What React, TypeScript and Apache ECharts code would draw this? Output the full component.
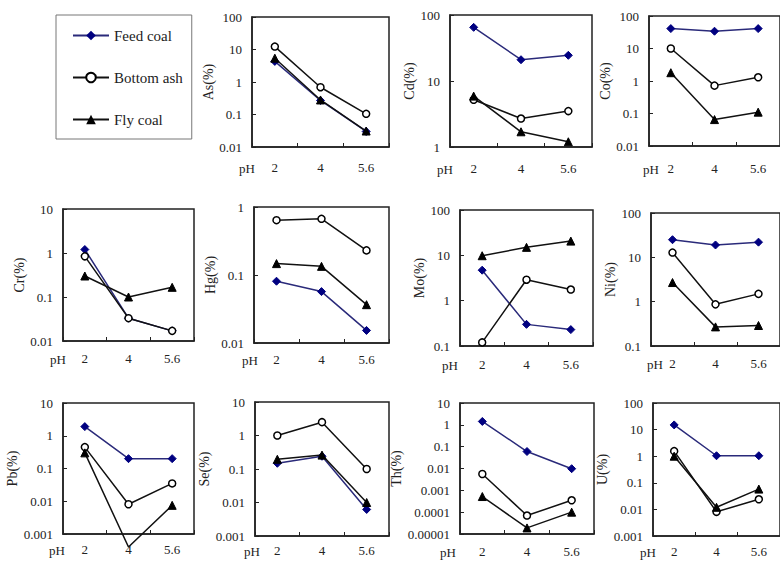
import React, { useEffect, useRef } from "react";
import * as echarts from "echarts";

// ---- data ----
const phLabels = ["2", "4", "5.6"];
const elements = ["As", "Cd", "Co", "Cr", "Hg", "Mo", "Ni", "Pb", "Se", "Th", "U"];
const seriesNames = ["Feed coal", "Bottom ash", "Fly coal"];

const feedCoal = [
  [4.3, 0.27, 0.03],
  [65, 21, 24.5],
  [41, 34, 41],
  [1.2, 0.033, 0.017],
  [0.081, 0.057, 0.0153],
  [4.7, 0.3, 0.23],
  [25, 19, 22],
  [1.9, 0.2, 0.2],
  [0.148, 0.24, 0.0062],
  [1.43, 0.06, 0.0098],
  [15, 1.04, 1.04],
];
const bottomAsh = [
  [12.3, 0.69, 0.105],
  [5.2, 2.7, 3.5],
  [10, 0.72, 1.3],
  [0.84, 0.033, 0.017],
  [0.64, 0.67, 0.23],
  [0.12, 2.9, 1.76],
  [12.8, 0.87, 1.5],
  [0.45, 0.0081, 0.035],
  [1.0, 2.5, 0.1],
  [0.0056, 0.00007, 0.00035],
  [1.55, 0.0081, 0.024],
];
const flyCoal = [
  [5.4, 0.28, 0.031],
  [5.9, 1.7, 1.2],
  [1.8, 0.065, 0.11],
  [0.3, 0.1, 0.166],
  [0.147, 0.134, 0.0366],
  [9.8, 15, 20.6],
  [2.7, 0.27, 0.29],
  [0.3, 0.0004, 0.0075],
  [0.195, 0.26, 0.01],
  [0.00052, 0.000019, 0.0001],
  [1.0, 0.012, 0.058],
];
const yMin = [0.01, 1, 0.01, 0.01, 0.01, 0.1, 0.1, 0.001, 0.001, 0.00001, 0.001];
const yMax = [100, 100, 100, 10, 1, 100, 100, 10, 10, 10, 100];

// ---- layout (positions only) ----
// [left, top, width, height, nameGap, labelMargin, phX, phY]
const layout = [
  [252, 17, 137, 130, 32, 14, 247, 168],
  [450, 15, 142, 132, 28, 15, 445, 169],
  [649, 16, 138, 130, 21, 16, 651, 169],
  [63, 209, 131, 132, 28, 11, 58, 359],
  [254, 207, 135, 136, 28, 10, 250, 360],
  [460, 210, 133, 136, 30, 12, 450, 365],
  [651, 213, 135, 133, 29, 11, 655, 364],
  [63, 403, 131, 131, 36, 9, 57, 550],
  [255, 402, 134, 134, 36, 8, 252, 551],
  [460, 403, 134, 131, 45, 11, 448, 552],
  [653, 403, 136, 133, 34, 9, 648, 552],
];

const FONT = "Liberation Serif";
const INK = "#222";
const NAVY = "#000080";

function fmtLog(v: number) {
  const e = Math.round(Math.log10(v));
  if (e >= 0) return String(Math.round(v));
  return v.toFixed(-e);
}

export default function App() {
  const ref = useRef<HTMLDivElement>(null);
  useEffect(() => {
    if (!ref.current) return;
    const chart = echarts.init(ref.current, undefined, { renderer: "svg" });
    const grid: any[] = [];
    const xAxis: any[] = [];
    const yAxis: any[] = [];
    const series: any[] = [];
    const graphic: any[] = [];
    elements.forEach((el, i) => {
      const [l, t, w, h, ng, lm, px, py] = layout[i];
      grid.push({ left: l, top: t, width: w, height: h, show: true, borderColor: INK, borderWidth: 1.5, backgroundColor: "transparent" });
      xAxis.push({
        type: "category",
        gridIndex: i,
        data: phLabels,
        boundaryGap: true,
        axisLine: { show: true, lineStyle: { color: INK, width: 1.5 } },
        axisTick: { show: true, inside: true, length: 4, lineStyle: { color: INK } },
        axisLabel: { margin: lm, fontSize: 13, fontFamily: FONT, color: INK },
        splitLine: { show: false },
      });
      yAxis.push({
        type: "log",
        logBase: 10,
        gridIndex: i,
        min: yMin[i],
        max: yMax[i],
        name: el + "(%)",
        nameLocation: "middle",
        nameGap: ng,
        nameTextStyle: { fontSize: 14, fontFamily: FONT, color: INK },
        axisLine: { show: true, lineStyle: { color: INK, width: 1.5 } },
        axisTick: { show: true, inside: true, length: 4, lineStyle: { color: INK } },
        axisLabel: { margin: 10, fontSize: 13, fontFamily: FONT, color: INK, formatter: fmtLog },
        splitLine: { show: false },
        minorTick: { show: false },
      });
      const common = {
        type: "line",
        xAxisIndex: i,
        yAxisIndex: i,
        clip: false,
      };
      series.push({
        ...common,
        name: seriesNames[0],
        data: feedCoal[i],
        symbol: "diamond",
        symbolSize: 8,
        itemStyle: { color: NAVY, borderColor: NAVY },
        lineStyle: { color: "#2a2a7a", width: 1.5 },
        z: 2,
      });
      series.push({
        ...common,
        name: seriesNames[1],
        data: bottomAsh[i],
        symbol: "circle",
        symbolSize: 7,
        showSymbol: true,
        itemStyle: { color: "#fff", borderColor: "#000", borderWidth: 1.5 },
        lineStyle: { color: "#111", width: 1.5 },
        z: 3,
      });
      series.push({
        ...common,
        name: seriesNames[2],
        data: flyCoal[i].map((v) => (v < yMin[i] ? { value: v, symbol: "none" } : v)),
        symbol: "triangle",
        symbolSize: 8,
        itemStyle: { color: "#000", borderColor: "#000" },
        lineStyle: { color: "#111", width: 1.5 },
        z: 4,
      });
      graphic.push({
        type: "text",
        x: px,
        y: py,
        style: {
          text: "pH",
          fontSize: 13,
          fontFamily: FONT,
          fill: INK,
          align: "center",
          verticalAlign: "middle",
        },
      });
    });
    chart.setOption({
      animation: false,
      backgroundColor: "#fff",
      textStyle: { fontFamily: FONT },
      legend: {
        data: seriesNames,
        orient: "vertical",
        left: 56,
        top: 15,
        padding: [13, 9, 12, 16],
        itemGap: 27,
        itemWidth: 36,
        itemHeight: 12,
        itemTextGap: 3,
        borderColor: "#777",
        borderWidth: 1,
        textStyle: { fontSize: 15, fontFamily: FONT, color: INK },
        selectedMode: false,
      },
      grid,
      xAxis,
      yAxis,
      series,
      graphic,
    });
    return () => chart.dispose();
  }, []);
  return (
    <div
      ref={ref}
      style={{ position: "absolute", left: 0, top: 0, width: 780, height: 563 }}
    />
  );
}
